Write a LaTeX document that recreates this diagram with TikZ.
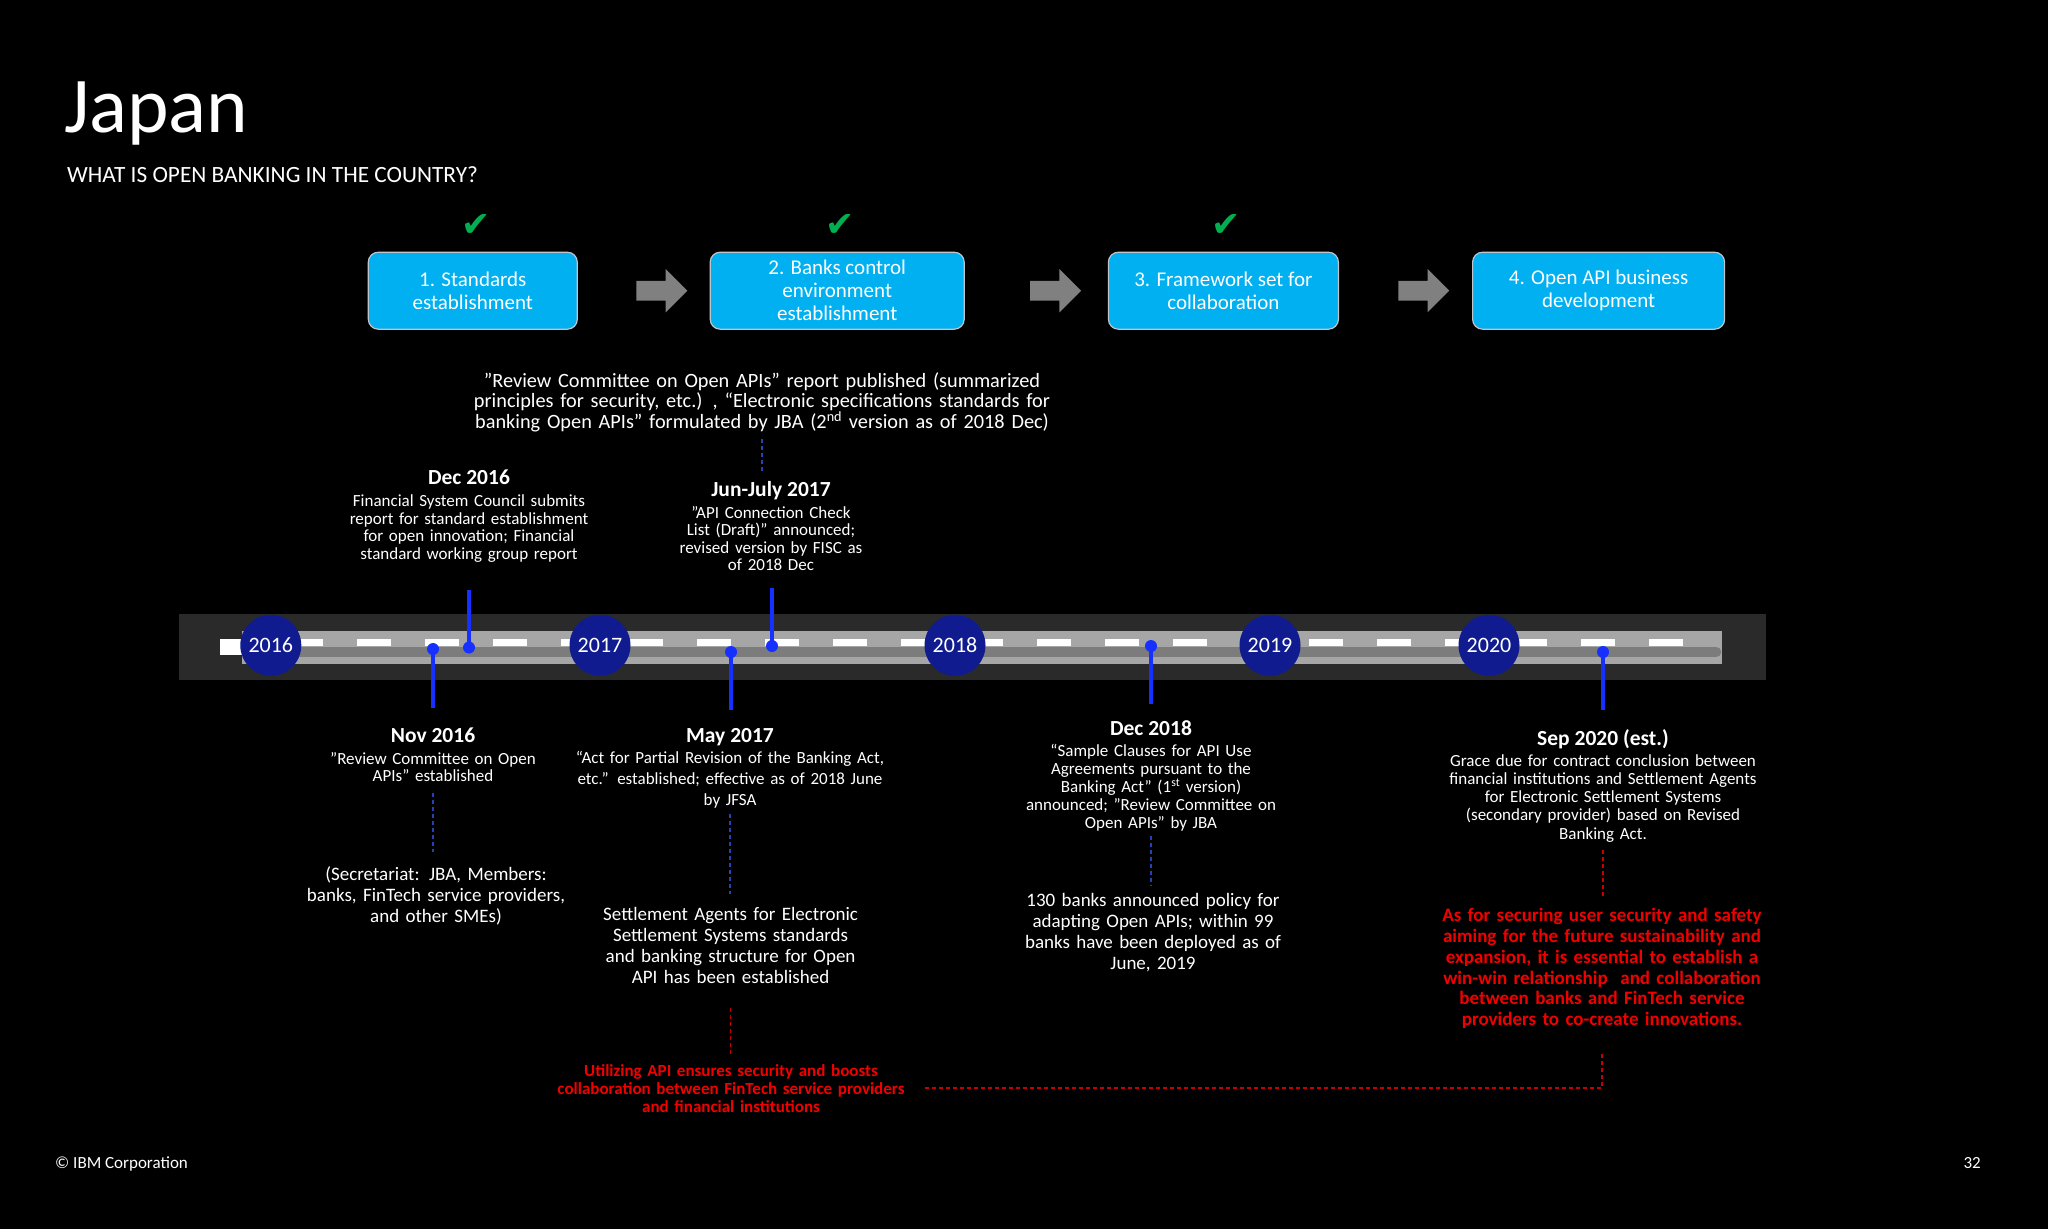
\documentclass[tikz,border=0pt]{standalone}
\usepackage{fontspec}
\setmainfont{Carlito}
\newfontfamily\tickfont{DejaVu Sans}
\usetikzlibrary{arrows.meta, positioning, calc, shapes.arrows}
\definecolor{StageCyan}{HTML}{00B0F0}
\definecolor{StageEdge}{HTML}{BFC5CC}
\definecolor{ArrowGray}{HTML}{808080}
\definecolor{TickGreen}{HTML}{00B050}
\definecolor{BandGray}{HTML}{2A2A2A}
\definecolor{RoadGray}{HTML}{A6A6A6}
\definecolor{LaneGray}{HTML}{7C7C7C}
\definecolor{YearNavy}{HTML}{0F1B8E}
\definecolor{EventBlue}{HTML}{1530FF}
\definecolor{LinkBlue}{HTML}{2542B5}
\definecolor{NoteRed}{HTML}{F20000}
\definecolor{LinkRed}{HTML}{C80000}
\lineskiplimit=-40pt

\begin{document}
\begin{tikzpicture}[x=1pt, y=-1pt, >=Stealth]
        \tikzstyle{stage}      = [rectangle, draw=StageEdge, fill=StageCyan, line width=1.2pt, rounded corners=10pt, minimum height=77pt, align=center, text=white, font=\fontsize{21}{23}\selectfont]
        \tikzstyle{blockarrow} = [single arrow, fill=ArrowGray, inner xsep=0pt, inner ysep=9.7pt, single arrow head extend=11.8pt, minimum height=51pt]
        \tikzstyle{donemark}   = [text=TickGreen, inner sep=0pt, xshift=3pt, font=\tickfont\fontsize{35}{35}\selectfont]
        \tikzstyle{yearball}   = [circle, fill=YearNavy, minimum size=61pt, inner sep=0pt, text=white, font=\fontsize{22}{22}\selectfont]
        \tikzstyle{evdot}      = [circle, fill=EventBlue, minimum size=12pt, inner sep=0pt]
        \tikzstyle{evstem}     = [draw=EventBlue, line width=4pt]
        \tikzstyle{evhead}     = [anchor=base, inner sep=0pt, text=white, font=\bfseries\fontsize{21.5}{24}\selectfont]
        \tikzstyle{evbody}     = [anchor=base, inner sep=0pt, align=center, text=white, font=\fontsize{17}{17.5}\selectfont]
        \tikzstyle{evnote}     = [anchor=base, inner sep=0pt, align=center, text=white, font=\fontsize{19}{21.2}\selectfont]
        \tikzstyle{rednote}    = [anchor=base, inner sep=0pt, align=center, text=NoteRed, font=\bfseries\fontsize{19}{20.8}\selectfont]
        \tikzstyle{linkblue}   = [draw=LinkBlue, line width=1.3pt, dash pattern=on 4pt off 3pt]
        \tikzstyle{linkred}    = [draw=LinkRed, line width=1.3pt, dash pattern=on 4pt off 3pt]

        \useasboundingbox (0,0) rectangle (2048,1229);
        \fill[black] (0,0) rectangle (2048,1229);

        % Title
        \node[anchor=base west, inner sep=0pt, text=white, font=\fontsize{79}{84}\selectfont] (title) at (64,132) {Japan};
        \node[anchor=base west, inner sep=0pt, text=white, font=\fontsize{23.3}{26}\selectfont] (subtitle) at (67,182) {WHAT IS OPEN BANKING IN THE COUNTRY?};

        % Stages
        \node[stage, minimum width=209pt] (s1) at (472.8,290.7) {1. Standards\\ establishment};
        \node[stage, minimum width=254pt, right=131.7pt of s1] (s2) {2. Banks control\\ environment\\ establishment};
        \node[stage, minimum width=230pt, right=143pt of s2] (s3) {3. Framework set for\\ collaboration};
        \node[stage, minimum width=252pt, right=133pt of s3] (s4) {4. Open API business\\ development};
        \path (s1) -- node[pos=0.6, blockarrow] (arr1) {} (s2);
        \path (s2) -- node[pos=0.6, blockarrow] (arr2) {} (s3);
        \path (s3) -- node[pos=0.6, blockarrow] (arr3) {} (s4);
        \node[donemark, above=15pt of s1] (done1) {✔};
        \node[donemark, above=15pt of s2] (done2) {✔};
        \node[donemark, above=15pt of s3] (done3) {✔};

        % Timeline
        \fill[BandGray] (179,614) rectangle (1766,680);
        \fill[RoadGray] (242,631) rectangle (1722,664);
        \draw[LaneGray, line width=10.6pt, line cap=round] (248,652) -- (1716,652);
        \draw[white, line width=7pt, dash pattern=on 34pt off 34pt] (220.7,642.3) -- (1683,642.3);
        \fill[white] (220,639) rectangle (242,655);

        % Events
        \node[evdot] (novdot) at (433,649) {};
        \node[evdot] (decdot) at (469,647.5) {};
        \node[evdot] (maydot) at (731,652) {};
        \node[evdot] (jundot) at (772,646) {};
        \node[evdot] (dec18dot) at (1151,646) {};
        \node[evdot] (sepdot) at (1603,652) {};
        \coordinate (novfoot) at (433,708);
        \coordinate (dectop) at (469,590);
        \coordinate (mayfoot) at (731,710);
        \coordinate (juntop) at (772,588);
        \coordinate (dec18foot) at (1151,704);
        \coordinate (sepfoot) at (1603,710);
        \draw[evstem] (novdot.center) -- (novfoot);
        \draw[evstem] (decdot.center) -- (dectop);
        \draw[evstem] (maydot.center) -- (mayfoot);
        \draw[evstem] (jundot.center) -- (juntop);
        \draw[evstem] (dec18dot.center) -- (dec18foot);
        \draw[evstem] (sepdot.center) -- (sepfoot);

        % Years
        \node[yearball] (y2016) at (270.8,645.3) {2016};
        \node[yearball] (y2017) at (600,645.3) {2017};
        \node[yearball] (y2018) at (955,645.3) {2018};
        \node[yearball] (y2019) at (1270,645.3) {2019};
        \node[yearball] (y2020) at (1489,645.3) {2020};

        % Above the timeline
        \node[evnote, text width=620pt, font=\fontsize{20.3}{19.7}\selectfont] (report) at (762,387.3) {”Review Committee on Open APIs” report published (summarized\\ principles for security, etc.) , “Electronic specifications standards for\\ banking Open APIs” formulated by JBA (2\textsuperscript{nd} version as of 2018 Dec)};
        \node[evhead] (dech) at (469,484) {Dec 2016};
        \node[evbody, text width=260pt] (decb) at (469,506.7) {Financial System Council submits\\ report for standard establishment\\ for open innovation; Financial\\ standard working group report};
        \node[evhead] (junh) at (771,496) {Jun-July 2017};
        \node[evbody, text width=210pt] (junb) at (771,518.3) {”API Connection Check\\ List (Draft)” announced;\\ revised version by FISC as\\ of 2018 Dec};

        % Below the timeline
        \node[evhead] (novh) at (433,742) {Nov 2016};
        \node[evbody, text width=220pt, font=\fontsize{17}{17}\selectfont] (novb) at (433,764.8) {”Review Committee on Open\\ APIs” established};
        \node[evnote, text width=290pt] (secr) at (436,880) {(Secretariat: JBA, Members:\\ banks, FinTech service providers,\\ and other SMEs)};

        \node[evhead] (mayh) at (730,742) {May 2017};
        \node[evbody, text width=330pt, font=\fontsize{17}{21}\selectfont] (mayb) at (730,763.8) {“Act for Partial Revision of the Banking Act,\\ etc.” established; effective as of 2018 June\\ by JFSA};
        \node[evnote, text width=290pt, font=\fontsize{19}{21.3}\selectfont] (settle) at (730.6,920) {Settlement Agents for Electronic\\ Settlement Systems standards\\ and banking structure for Open\\ API has been established};
        \node[rednote, text width=420pt, font=\bfseries\fontsize{17}{18}\selectfont] (red1) at (731,1076) {Utilizing API ensures security and boosts\\ collaboration between FinTech service providers\\ and financial institutions};

        \node[evhead] (dec18h) at (1151,735) {Dec 2018};
        \node[evbody, text width=280pt, font=\fontsize{17}{18}\selectfont] (dec18b) at (1151,756.7) {“Sample Clauses for API Use\\ Agreements pursuant to the\\ Banking Act” (1\textsuperscript{st} version)\\ announced; ”Review Committee on\\ Open APIs” by JBA};
        \node[evnote, text width=280pt, font=\fontsize{19}{21.3}\selectfont] (banks) at (1153,906) {130 banks announced policy for\\ adapting Open APIs; within 99\\ banks have been deployed as of\\ June, 2019};

        \node[evhead] (seph) at (1603,745) {Sep 2020 (est.)};
        \node[evbody, text width=340pt, font=\fontsize{17}{18.3}\selectfont] (sepb) at (1603,766) {Grace due for contract conclusion between\\ financial institutions and Settlement Agents\\ for Electronic Settlement Systems\\ (secondary provider) based on Revised\\ Banking Act.};
        \node[rednote, text width=360pt] (red2) at (1602,921.7) {As for securing user security and safety\\ aiming for the future sustainability and\\ expansion, it is essential to establish a\\ win-win relationship\ \ and collaboration\\ between banks and FinTech service\\ providers to co-create innovations.};

        % Dashed links
        \draw[linkblue] ([yshift=-7pt]report.south) -- ([yshift=8pt]report.south |- junh.north);
        \draw[linkblue] ([yshift=-11pt]novb.south) -- ([yshift=14pt]novb.south |- secr.north);
        \draw[linkblue] ([yshift=-5pt]mayb.south) -- ([yshift=13pt]mayb.south |- settle.north);
        \draw[linkred] ([yshift=-24pt]settle.south) -- ([yshift=9pt]settle.south |- red1.north);
        \draw[linkblue] ([yshift=-4pt]dec18b.south) -- ([yshift=7pt]dec18b.south |- banks.north);
        \draw[linkred] ([yshift=-8pt]sepb.south) -- ([yshift=10pt]sepb.south |- red2.north);
        \draw[linkred] ([yshift=-25pt]red2.south) |- ([xshift=-16.5pt]red1.east);

        % Footer
        \node[anchor=base west, inner sep=0pt, text=white, font=\fontsize{17}{20}\selectfont] (corp) at (55,1168) {© IBM Corporation};
        \node[anchor=base east, inner sep=0pt, text=white, font=\fontsize{17}{20}\selectfont] (page) at (1981,1168) {32};
\end{tikzpicture}
\end{document}
